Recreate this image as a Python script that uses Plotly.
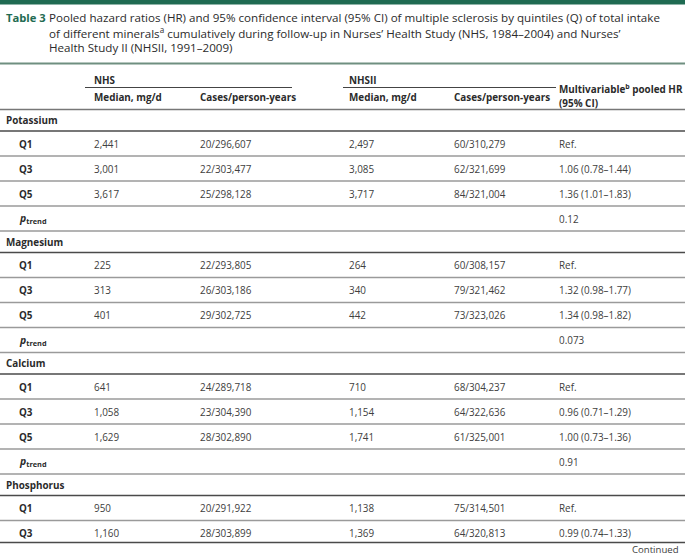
import plotly.graph_objects as go

W, H = 685, 555

# ---- table content ----
title_label = "Table 3"
title_lines = [
    "Pooled hazard ratios (HR) and 95% confidence interval (95% CI) of multiple sclerosis by quintiles (Q) of total intake",
    "of different minerals<sup>a</sup> cumulatively during follow-up in Nurses’ Health Study (NHS, 1984–2004) and Nurses’",
    "Health Study II (NHSII, 1991–2009)",
]
group_headers = ["NHS", "NHSII"]
col_headers = ["Median, mg/d", "Cases/person-years", "Median, mg/d", "Cases/person-years"]
hr_header = ["Multivariable<sup>b</sup> pooled HR", "(95% CI)"]

row_labels = ["Potassium", "Q1", "Q3", "Q5", "ptrend",
              "Magnesium", "Q1", "Q3", "Q5", "ptrend",
              "Calcium", "Q1", "Q3", "Q5", "ptrend",
              "Phosphorus", "Q1", "Q3"]
nhs_median = ["", "2,441", "3,001", "3,617", "",
              "", "225", "313", "401", "",
              "", "641", "1,058", "1,629", "",
              "", "950", "1,160"]
nhs_cases = ["", "20/296,607", "22/303,477", "25/298,128", "",
             "", "22/293,805", "26/303,186", "29/302,725", "",
             "", "24/289,718", "23/304,390", "28/302,890", "",
             "", "20/291,922", "28/303,899"]
nhsii_median = ["", "2,497", "3,085", "3,717", "",
                "", "264", "340", "442", "",
                "", "710", "1,154", "1,741", "",
                "", "1,138", "1,369"]
nhsii_cases = ["", "60/310,279", "62/321,699", "84/321,004", "",
               "", "60/308,157", "79/321,462", "73/323,026", "",
               "", "68/304,237", "64/322,636", "61/325,001", "",
               "", "75/314,501", "64/320,813"]
pooled_hr = ["", "Ref.", "1.06 (0.78–1.44)", "1.36 (1.01–1.83)", "0.12",
             "", "Ref.", "1.32 (0.98–1.77)", "1.34 (0.98–1.82)", "0.073",
             "", "Ref.", "0.96 (0.71–1.29)", "1.00 (0.73–1.36)", "0.91",
             "", "Ref.", "0.99 (0.74–1.33)"]
footer_text = "Continued"

# ---- layout/style ----
FONT = "Open Sans"
GREEN = "#1f6b52"
TXT = "#404040"
HDR = "#2b2b2b"
LINE = "#9a9a9a"
DARK = "#4a4a4a"
FS = 9.9
col_x = [92, 198, 347, 452, 557]
CATS = ("Potassium", "Magnesium", "Calcium", "Phosphorus")

fig = go.Figure()
fig.add_trace(go.Scatter(x=[0, W], y=[0, H], mode="markers",
                         marker=dict(opacity=0), hoverinfo="skip", showlegend=False))

shapes = []
ann = []

def text(x, y, s, size=FS, color=TXT, bold=False, anchor="left"):
    if bold:
        s = "<b>" + s + "</b>"
    ann.append(dict(x=x, y=y, xref="x", yref="y", text=s, showarrow=False,
                    xanchor=anchor, yanchor="middle",
                    font=dict(family=FONT, size=size, color=color)))

def hline(y, x0=0, x1=W, color=LINE, width=1.5):
    shapes.append(dict(type="line", xref="x", yref="y", x0=x0, x1=x1, y0=y, y1=y,
                       line=dict(color=color, width=width)))

# top bar
shapes.append(dict(type="rect", xref="x", yref="y", x0=0, x1=W, y0=0, y1=4.5,
                   fillcolor=GREEN, line=dict(width=0)))
# title
text(4, 17, title_label, size=11.2, color=GREEN, bold=True)
for i, ln in enumerate(title_lines):
    text(47, 17 + i * 15, ln, size=11.6, color=HDR)
hline(63.5, color="#6f8f80", width=2)

# headers
text(col_x[0], 80, group_headers[0], bold=True, color=HDR)
text(col_x[2], 80, group_headers[1], bold=True, color=HDR)
hline(87.5, 85, 292, color="#444", width=1.2)
hline(87.5, 343, 556, color="#444", width=1.2)
for i, h in enumerate(col_headers):
    text(col_x[i], 97, h, bold=True, color=HDR)
text(col_x[4], 89, hr_header[0], bold=True, color=HDR)
text(col_x[4], 103, hr_header[1], bold=True, color=HDR)
hline(109.5, color="#777", width=1.5)

# body rows
y = 109.5
for i, lab in enumerate(row_labels):
    is_cat = lab in CATS
    h = 21.5 if is_cat else 25
    cy = y + h / 2
    if is_cat:
        text(4, cy, lab, bold=True, color=HDR)
    elif lab == "ptrend":
        text(17, cy, "<b><i>p</i></b><sub><b>trend</b></sub>", color=HDR, size=10.5)
    else:
        text(17, cy, lab, bold=True, color=HDR)
    for j, col in enumerate([nhs_median, nhs_cases, nhsii_median, nhsii_cases, pooled_hr]):
        if col[i]:
            text(col_x[j], cy, col[i])
    last = i == len(row_labels) - 1
    y += h - (3 if last else 0)
    hline(y, color=DARK if (is_cat or last) else LINE, width=1.5)

text(W - 4, y + 6.5, footer_text, anchor="right", size=9.6)

fig.update_layout(
    width=W, height=H, margin=dict(l=0, r=0, t=0, b=0),
    paper_bgcolor="white", plot_bgcolor="white",
    xaxis=dict(range=[0, W], visible=False, fixedrange=True),
    yaxis=dict(range=[H, 0], visible=False, fixedrange=True),
    shapes=shapes, annotations=ann, showlegend=False,
)
fig.write_html("out.html", config={"displayModeBar": False},
               post_script="document.body.style.margin='0px';document.body.style.overflow='hidden';")
